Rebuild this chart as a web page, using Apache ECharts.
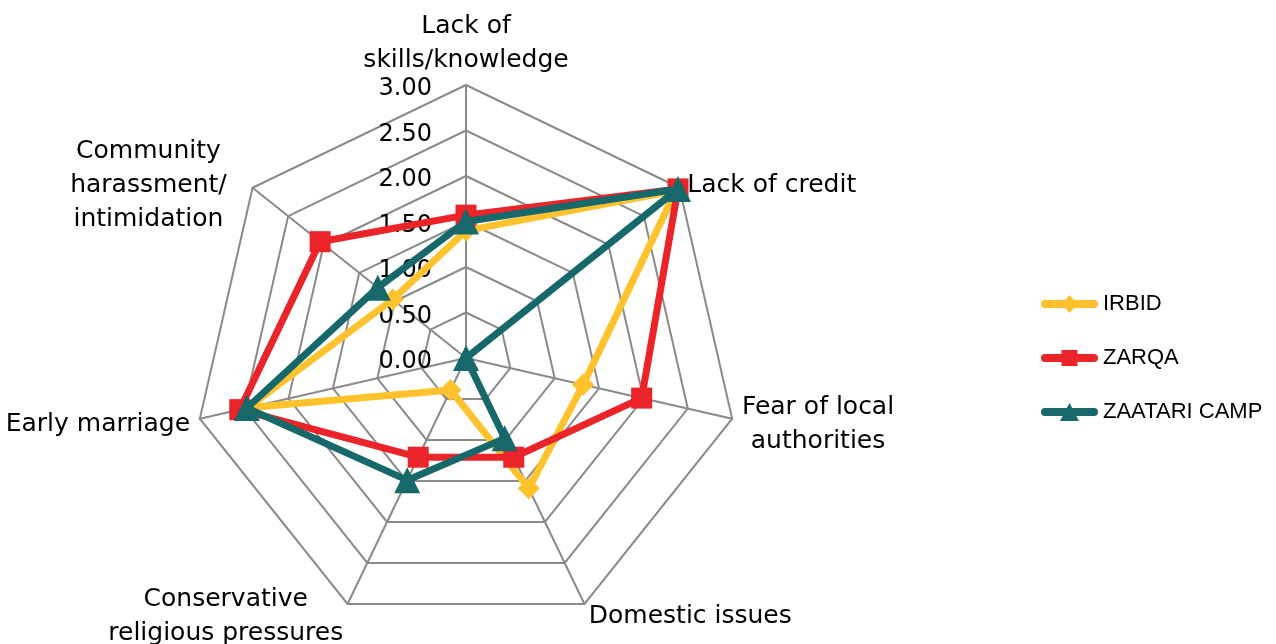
<!DOCTYPE html>
<html>
<head>
<meta charset="utf-8">
<script src="https://cdn.jsdelivr.net/npm/echarts@6/dist/echarts.min.js"></script>
<style>
html,body{margin:0;padding:0;background:#fff;}
#chart{width:1276px;height:644px;}
</style>
</head>
<body>
<div id="chart"></div>
<script>
// Categories in clockwise order starting from the top
var categories = [
  'Lack of\nskills/knowledge',
  'Lack of credit',
  'Fear of local\nauthorities',
  'Domestic issues',
  'Conservative\nreligious pressures',
  'Early marriage',
  'Community\nharassment/\nintimidation'
];
var seriesNames = ['IRBID', 'ZARQA', 'ZAATARI CAMP'];
var irbid   = [1.40, 2.95, 1.32, 1.59, 0.39, 2.46, 1.03];
var zarqa   = [1.57, 2.98, 1.98, 1.21, 1.21, 2.55, 2.05];
var zaatari = [1.50, 2.98, 0.00, 0.98, 1.49, 2.47, 1.24];
var axisMax = 3;
var axisSplits = 6;

// ECharts lays radar indicators counter-clockwise; reorder to keep clockwise appearance
function ccw(arr) { return [arr[0]].concat(arr.slice(1).reverse()); }

var font = 'DejaVu Sans';
var cats = ccw(categories);
var indicators = cats.map(function (c, i) {
  var ind = { name: c, min: 0, max: axisMax, axisLabel: { show: i === 0 } };
  if (c.indexOf('Community') === 0) ind.nameTextStyle = { padding: [7, 18, 0, 0] };
  return ind;
});

var colors = ['#FDC22C', '#EA2428', '#17686A'];
var symbols = ['diamond', 'rect', 'triangle'];
var sizes = [22, 21, 26];
var values = [irbid, zarqa, zaatari];

// legend icons: a thick line with the series marker in the middle
var legendIcons = [
  'path://M0,0M57,20M4,6L53,6A4,4 0 0 1 53,14L4,14A4,4 0 0 1 4,6ZM28.5,1L36.5,10L28.5,19L20.5,10Z',
  'path://M0,0M57,20M4,6L53,6A4,4 0 0 1 53,14L4,14A4,4 0 0 1 4,6ZM20.5,2L36.5,2L36.5,18L20.5,18Z',
  'path://M0,0M57,20M4,6L53,6A4,4 0 0 1 53,14L4,14A4,4 0 0 1 4,6ZM28.5,1L38,19L19,19Z'
];

var series = values.map(function (v, k) {
  return {
    type: 'radar',
    name: seriesNames[k],
    z: 2 + k,
    symbol: symbols[k],
    symbolSize: sizes[k],
    itemStyle: { color: colors[k] },
    lineStyle: { color: colors[k], width: 7 },
    data: [{ value: ccw(v), name: seriesNames[k] }]
  };
});

var chart = echarts.init(document.getElementById('chart'), null, { renderer: 'canvas' });
chart.setOption({
  animation: false,
  backgroundColor: '#ffffff',
  color: colors,
  legend: {
    orient: 'vertical',
    left: 1036,
    top: 288,
    itemWidth: 57,
    itemHeight: 20,
    itemGap: 32,
    textStyle: { fontFamily: 'Liberation Sans', fontSize: 22, color: '#000' },
    data: seriesNames.map(function (n, k) { return { name: n, icon: legendIcons[k] }; })
  },
  radar: {
    center: [466, 358],
    radius: 273,
    startAngle: 90,
    splitNumber: axisSplits,
    shape: 'polygon',
    nameGap: 10,
    axisName: {
      color: '#000',
      fontFamily: font,
      fontSize: 25,
      lineHeight: 34,
      padding: [7, 0, 0, 0],
      formatter: function (val) {
        var lines = val.split('\n');
        if (val.indexOf('skills') >= 0) {
          return '{t1|' + lines[0] + '}\n{t2|' + lines[1] + '}';
        }
        return lines.map(function (s) { return '{c|' + s + '}'; }).join('\n');
      },
      rich: {
        c: { align: 'center', fontFamily: font, fontSize: 25, lineHeight: 34, color: '#000' },
        t1: { align: 'center', fontFamily: font, fontSize: 25, lineHeight: 38, color: '#000' },
        t2: { align: 'center', fontFamily: font, fontSize: 25, lineHeight: 30, color: '#000' }
      }
    },
    splitArea: { show: false },
    splitLine: { lineStyle: { color: '#8a8a8a', width: 2 } },
    axisLine: { show: true, lineStyle: { color: '#8a8a8a', width: 2 } },
    axisTick: { show: false },
    axisLabel: {
      show: false,
      margin: 34,
      color: '#000',
      fontFamily: font,
      fontSize: 24,
      formatter: function (v) { return '{v|' + Number(v).toFixed(2) + '}'; },
      rich: { v: { fontFamily: font, fontSize: 24, color: '#000', padding: [8, 0, 0, 0] } }
    },
    indicator: indicators
  },
  series: series
});
</script>
</body>
</html>
